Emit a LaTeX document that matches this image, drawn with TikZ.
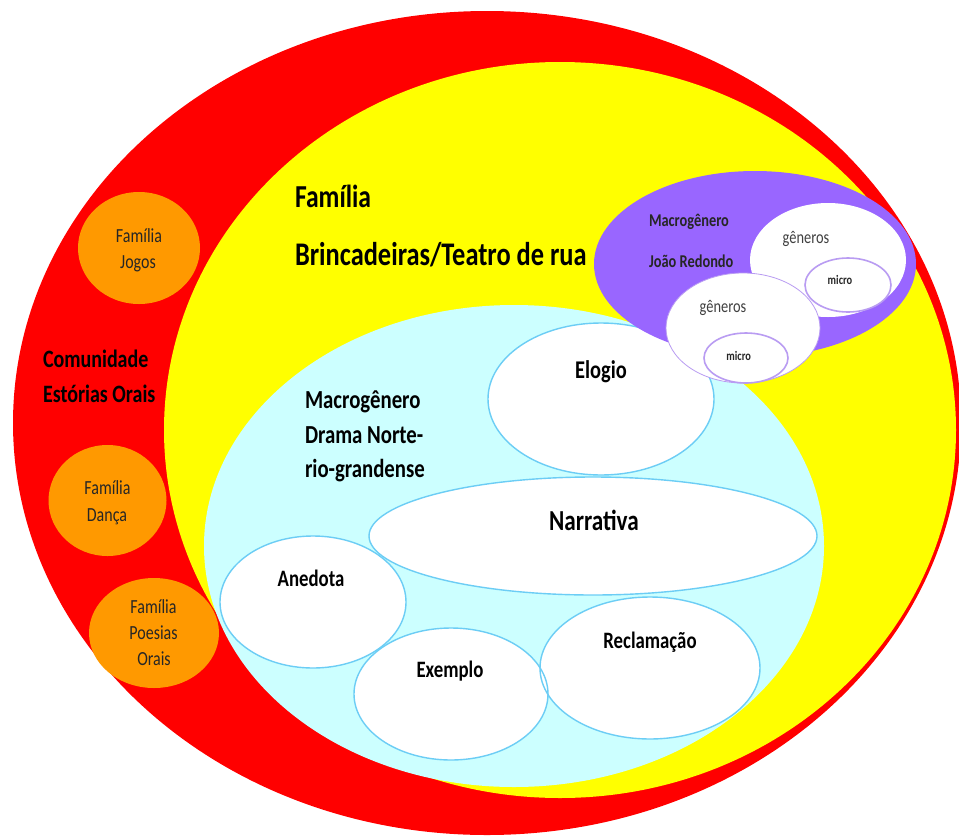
\documentclass[tikz,border=0pt]{standalone}
\usepackage{fontspec}
\setmainfont{Carlito}[FakeStretch=0.8]
\usetikzlibrary{shapes.geometric}
\definecolor{redC}{HTML}{FF0000}
\definecolor{yelC}{HTML}{FFFF00}
\definecolor{cyanC}{HTML}{CCFFFF}
\definecolor{purpC}{HTML}{9966FF}
\definecolor{orC}{HTML}{FF9900}
\definecolor{blueL}{HTML}{6CCDF5}
\definecolor{lavL}{HTML}{B99CF2}
\definecolor{grayT}{HTML}{404040}
\definecolor{darkT}{HTML}{262626}
\begin{document}
\begin{tikzpicture}[x=1pt,y=-1pt,
  blob/.style={ellipse, inner sep=0pt, outer sep=0pt, draw=none},
  tb/.style={anchor=base, inner sep=0pt, outer sep=0pt, font=\bfseries\fontsize{#1}{#1}\selectfont},
  tr/.style={anchor=base, inner sep=0pt, outer sep=0pt, font=\fontsize{#1}{#1}\selectfont},
]
\useasboundingbox (0,0) rectangle (959,836);
\fill[white] (0,0) rectangle (959,836);

% outer rings
\node[blob, fill=redC, minimum width=948pt, minimum height=824pt] (comunidade) at (487,423) {};
\node[blob, fill=yelC, minimum width=792pt, minimum height=736pt] (familia) at (560,430) {};

% orange family circles
\node[blob, fill=orC, minimum width=122pt, minimum height=112pt] (jogos) at (139,248) {};
\node[blob, fill=orC, minimum width=118pt, minimum height=111pt] (danca) at (107.5,500.5) {};
\node[blob, fill=orC, minimum width=130pt, minimum height=110pt] (poesias) at (154,633) {};

% cyan macrogenre
\node[blob, fill=cyanC, minimum width=620pt, minimum height=482pt] (drama) at (514,546) {};

% white genre ellipses (fills, then outlines)
\foreach \n/\x/\y/\rx/\ry in {elogio/601/399/113/76, narrativa/593/536/224/59, anedota/313/602/93/66, exemplo/451/694/97/66, reclamacao/650/668/110/71}{
  \node[blob, fill=white, minimum width=2*\rx*1pt, minimum height=2*\ry*1pt] (\n) at (\x,\y) {};
}
\foreach \n/\rx/\ry in {elogio/113/76, narrativa/224/59, anedota/93/66, exemplo/97/66, reclamacao/110/71}{
  \draw[blueL, line width=1.4pt] (\n.center) ellipse [x radius=\rx, y radius=\ry];
}

% purple macrogenre
\node[blob, fill=purpC, minimum width=322pt, minimum height=186pt] (joao) at (755,264) {};
\node[blob, fill=white, minimum width=156pt, minimum height=114pt] (gen1) at (828,260) {};
\node[blob, fill=white, minimum width=154pt, minimum height=110pt] (gen2) at (743,328) {};
\node[blob, fill=white, minimum width=86pt, minimum height=54pt] (mic1) at (848,285) {};
\node[blob, fill=white, minimum width=84pt, minimum height=50pt] (mic2) at (746,358) {};
\draw[lavL, line width=0.8pt] (gen2.center) ellipse [x radius=77, y radius=55];
\draw[lavL, line width=1.6pt] (mic1.center) ellipse [x radius=43, y radius=27];
\draw[lavL, line width=1.6pt] (mic2.center) ellipse [x radius=42, y radius=25];

% texts
\node[tb=32, anchor=base west] (tFam) at (295,207) {Família};
\node[tb=33, anchor=base west] (tBrinc) at (295,265) {Brincadeiras/Teatro de rua};
\node[tb=25, anchor=base west] (tCom) at (43,367) {Comunidade};
\node[tb=25, anchor=base west] (tEst) at (43,402) {Estórias Orais};

\node[tr=20, darkT] (tJ1) at (139,242) {Família};
\node[tr=20, darkT] (tJ2) at (138,268) {Jogos};
\node[tr=20, darkT] (tD1) at (107.5,494) {Família};
\node[tr=20, darkT] (tD2) at (107,521) {Dança};
\node[tr=20, darkT] (tP1) at (153.5,613) {Família};
\node[tr=20, darkT] (tP2) at (153.5,639) {Poesias};
\node[tr=20, darkT] (tP3) at (154,665) {Orais};

\node[tb=26, anchor=base west] (tM1) at (305,408) {Macrogênero};
\node[tb=26, anchor=base west] (tM2) at (305,443) {Drama Norte-};
\node[tb=26, anchor=base west] (tM3) at (305,477) {rio-grandense};

\node[tb=25.5] (tElo) at (601,378) {Elogio};
\node[tb=29] (tNar) at (594,530) {Narrativa};
\node[tb=23.5] (tAne) at (311,586) {Anedota};
\node[tb=23.5] (tExe) at (450,677) {Exemplo};
\node[tb=23.5] (tRec) at (650,648) {Reclamação};

\node[tb=18, anchor=base west, darkT] (tJR1) at (649,226) {Macrogênero};
\node[tb=18, anchor=base west, darkT] (tJR2) at (649,267) {João Redondo};
\node[tr=18, grayT] (tG1) at (806,243) {gêneros};
\node[tr=18, grayT] (tG2) at (723,312) {gêneros};
\node[tb=13, darkT] (tMi1) at (840,284) {micro};
\node[tb=13, darkT] (tMi2) at (738.7,360) {micro};
\end{tikzpicture}
\end{document}
